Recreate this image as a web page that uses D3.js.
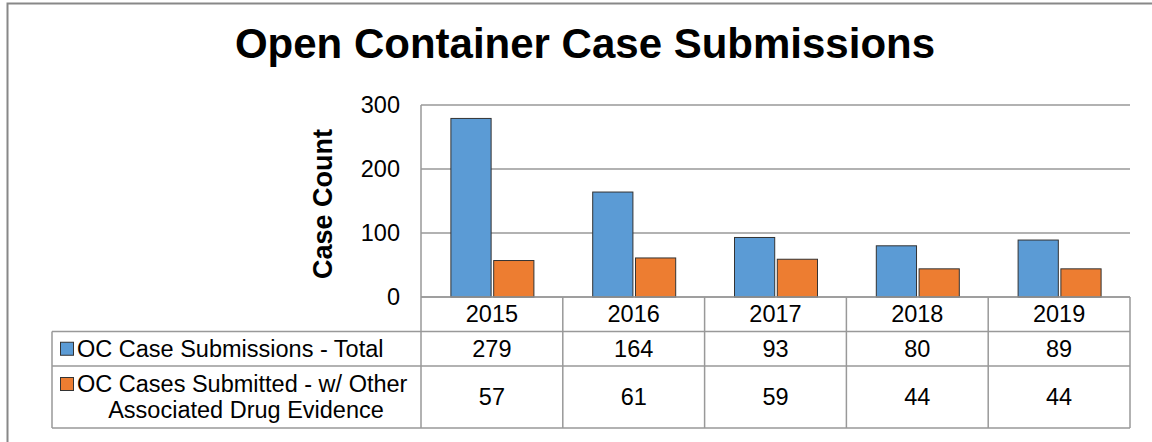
<!DOCTYPE html>
<html><head><meta charset="utf-8">
<script src="https://cdn.jsdelivr.net/npm/d3@7"></script>
<style>body{margin:0;background:#fff}svg{display:block;font-family:"Liberation Sans",Arial,sans-serif}</style>
</head><body>
<svg id="c" width="1152" height="442"></svg>
<script>
const title = "Open Container Case Submissions";
const yAxisLabel = "Case Count";
const categories = ["2015","2016","2017","2018","2019"];
const seriesNames = ["OC Case Submissions - Total", "OC Cases Submitted - w/ Other Associated Drug Evidence"];
const seriesLabelLines = [["OC Case Submissions - Total"], ["OC Cases Submitted - w/ Other", "Associated Drug Evidence"]];
const totals = [279,164,93,80,89];
const withDrug = [57,61,59,44,44];
const yTicks = [0,100,200,300];
const colors = ["#5B9BD5","#ED7D31"];

(function(){
const svg = d3.select("#c");
const pLeft = 421, pRight = 1130, pTop = 105, pBottom = 297;
const tableLeft = 52;
const rowBounds = [297, 331.5, 366, 428];
const fs = 23.5;

// outer border
svg.append("rect").attr("x",7.5).attr("y",3.5).attr("width",1200).attr("height",500)
  .attr("fill","none").attr("stroke","#888").attr("stroke-width",2);

svg.append("text").attr("x",585).attr("y",58).attr("text-anchor","middle")
  .attr("font-size",42).attr("font-weight","bold").text(title);

const x = d3.scaleBand().domain(categories).range([pLeft,pRight]);
const y = d3.scaleLinear().domain([0,300]).range([pBottom,pTop]);

// gridlines
svg.append("g").selectAll("line").data(yTicks).join("line")
  .attr("x1",pLeft).attr("x2",pRight).attr("y1",d=>y(d)).attr("y2",d=>y(d))
  .attr("stroke","#999").attr("stroke-width",1.5);
svg.append("line").attr("x1",pLeft).attr("x2",pLeft).attr("y1",pTop).attr("y2",pBottom)
  .attr("stroke","#999").attr("stroke-width",1.5);

// y axis labels
const yAxis = d3.axisLeft(y).tickValues(yTicks).tickSize(0).tickPadding(21);
const ga = svg.append("g").attr("transform",`translate(${pLeft},0)`).call(yAxis);
ga.select(".domain").remove();
ga.selectAll("text").attr("font-size",fs).attr("font-family","Liberation Sans, Arial, sans-serif").attr("fill","#000");

svg.append("text").attr("transform",`translate(332,204) rotate(-90)`)
  .attr("text-anchor","middle").attr("font-size",27).attr("font-weight","bold").text(yAxisLabel);

// bars
const inner = d3.scaleBand().domain([0,1]).range([-41,42]).paddingInner(0.06);
const series = [totals, withDrug];
series.forEach((vals,si)=>{
  svg.append("g").selectAll("rect").data(categories).join("rect")
    .attr("x",(c)=>x(c)+x.bandwidth()/2+inner(si))
    .attr("width",inner.bandwidth())
    .attr("y",(c,i)=>y(vals[i]))
    .attr("height",(c,i)=>y(0)-y(vals[i]))
    .attr("fill",colors[si]).attr("stroke","#333").attr("stroke-width",1);
});

// data table
const tg = svg.append("g").attr("stroke","#999").attr("stroke-width",1.5);
tg.append("line").attr("x1",pLeft).attr("x2",pRight).attr("y1",rowBounds[0]).attr("y2",rowBounds[0]);
[1,2,3].forEach(r=>tg.append("line").attr("x1",tableLeft).attr("x2",pRight).attr("y1",rowBounds[r]).attr("y2",rowBounds[r]));
tg.append("line").attr("x1",tableLeft).attr("x2",tableLeft).attr("y1",rowBounds[1]).attr("y2",rowBounds[3]);
categories.forEach(c=>tg.append("line").attr("x1",x(c)).attr("x2",x(c)).attr("y1",rowBounds[0]).attr("y2",rowBounds[3]));
tg.append("line").attr("x1",pRight).attr("x2",pRight).attr("y1",rowBounds[0]).attr("y2",rowBounds[3]);

svg.append("g").selectAll("text").data(categories).join("text")
  .attr("x",c=>x(c)+x.bandwidth()/2).attr("y",(rowBounds[0]+rowBounds[1])/2+8)
  .attr("text-anchor","middle").attr("font-size",fs).text(c=>c);

series.forEach((vals,si)=>{
  const yc = (rowBounds[si+1]+rowBounds[si+2])/2+8;
  svg.append("g").selectAll("text").data(categories).join("text")
    .attr("x",c=>x(c)+x.bandwidth()/2).attr("y",yc)
    .attr("text-anchor","middle").attr("font-size",fs).text((c,i)=>vals[i]);
  const lines = seriesLabelLines[si];
  const y0 = yc - (lines.length-1)*13;
  svg.append("rect").attr("x",60.5).attr("y",y0-14.5).attr("width",13).attr("height",13)
    .attr("fill",colors[si]).attr("stroke","#333").attr("stroke-width",1);
  lines.forEach((ln,li)=>{
    svg.append("text").attr("x", li===0?77:246).attr("y",y0+li*26)
      .attr("text-anchor", li===0?"start":"middle").attr("font-size",fs).text(ln);
  });
});
})();
</script>
</body></html>
